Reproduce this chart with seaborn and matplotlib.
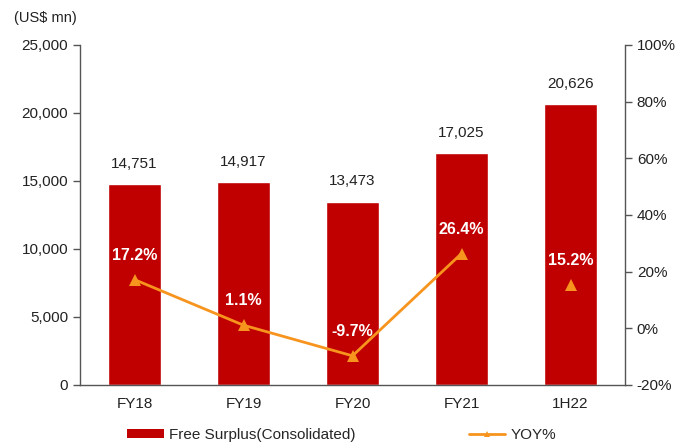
import numpy as np
import pandas as pd
import matplotlib
matplotlib.use("Agg")
import matplotlib.pyplot as plt
import seaborn as sns
from matplotlib.ticker import FuncFormatter, MultipleLocator
from matplotlib.lines import Line2D
from matplotlib.patches import Patch

periods = ["FY18", "FY19", "FY20", "FY21", "1H22"]
free_surplus = [14751, 14917, 13473, 17025, 20626]
yoy_pct = [17.2, 1.1, -9.7, 26.4, 15.2]
yoy_connected = [True, True, True, True, False]

BAR_RED = "#C00000"
LINE_ORANGE = "#F7941D"
TEXT = "#222222"
AXIS = "#555555"

sns.set_theme(style="white")
plt.rcParams["font.family"] = ["Liberation Sans", "DejaVu Sans"]
plt.rcParams["font.size"] = 11

df = pd.DataFrame({"period": periods, "surplus": free_surplus,
                   "yoy": yoy_pct, "connected": yoy_connected})

fig = plt.figure(figsize=(6.75, 4.45), dpi=100)
ax = fig.add_axes([80 / 675, 60 / 445, 545 / 675, 340 / 445])

sns.barplot(data=df, x="period", y="surplus", color=BAR_RED, width=0.48,
            saturation=1, ax=ax)
ax.set_xlim(-0.5, len(periods) - 0.5)
ax.set_ylim(0, 25000)
ax.yaxis.set_major_locator(MultipleLocator(5000))
ax.yaxis.set_major_formatter(FuncFormatter(lambda v, _: f"{v:,.0f}"))
ax.set_xlabel("")
ax.set_ylabel("")
for i, v in enumerate(free_surplus):
    ax.text(i, v + 1000, f"{v:,}", ha="center", va="bottom", fontsize=11, color=TEXT)

# ticks sit on the boundaries between categories
ax.set_xticks(range(len(periods)))
ax.set_xticks(np.arange(0.5, len(periods) - 0.5), minor=True)
ax.tick_params(axis="x", which="major", length=0, pad=9, labelsize=11, labelcolor=TEXT)
ax.tick_params(axis="x", which="minor", length=5, width=1, direction="out", color=AXIS)
ax.tick_params(axis="y", length=5, width=1, direction="out", color=AXIS,
               labelsize=11, labelcolor=TEXT)

for side in ["left", "bottom"]:
    ax.spines[side].set_color(AXIS)
    ax.spines[side].set_linewidth(1)
ax.spines["top"].set_visible(False)
ax.spines["right"].set_visible(False)

ax2 = ax.twinx()
conn = df[df["connected"]].reset_index()
sns.lineplot(x=conn["index"], y=conn["yoy"], color=LINE_ORANGE, lw=2,
             marker="^", markersize=8, markeredgewidth=0, ax=ax2)
loose = df[~df["connected"]].reset_index()
ax2.plot(loose["index"], loose["yoy"], ls="none", marker="^", markersize=8,
         color=LINE_ORANGE, markeredgewidth=0)
ax2.set_ylim(-20, 100)
ax2.yaxis.set_major_locator(MultipleLocator(20))
ax2.yaxis.set_major_formatter(FuncFormatter(lambda v, _: f"{v:.0f}%"))
ax2.set_xlabel("")
ax2.set_ylabel("")
ax2.tick_params(axis="y", length=5, width=1, direction="out", color=AXIS,
                labelsize=11, labelcolor=TEXT)
for side in ["left", "top", "bottom"]:
    ax2.spines[side].set_visible(False)
ax2.spines["right"].set_color(AXIS)
ax2.spines["right"].set_linewidth(1)
for i, v in enumerate(yoy_pct):
    ax2.text(i, v + 6, f"{v}%", ha="center", va="bottom", fontsize=11.5,
             color="white", fontweight="bold")

fig.text(14 / 675, 1 - 18 / 445, "(US$ mn)", fontsize=10.5, va="center", color=TEXT)

handles = [Patch(facecolor=BAR_RED, edgecolor="none"),
           Line2D([0], [0], color=LINE_ORANGE, lw=2, marker="^", markersize=5,
                  markeredgewidth=0)]
fig.legend(handles, ["Free Surplus(Consolidated)", "YOY%"], loc="center",
           bbox_to_anchor=(0.506, 1 - 435 / 445), ncol=2, frameon=False,
           columnspacing=7.4, handlelength=2.4, handleheight=0.55,
           handletextpad=0.35, fontsize=11)

fig.savefig("out.png", dpi=100)
